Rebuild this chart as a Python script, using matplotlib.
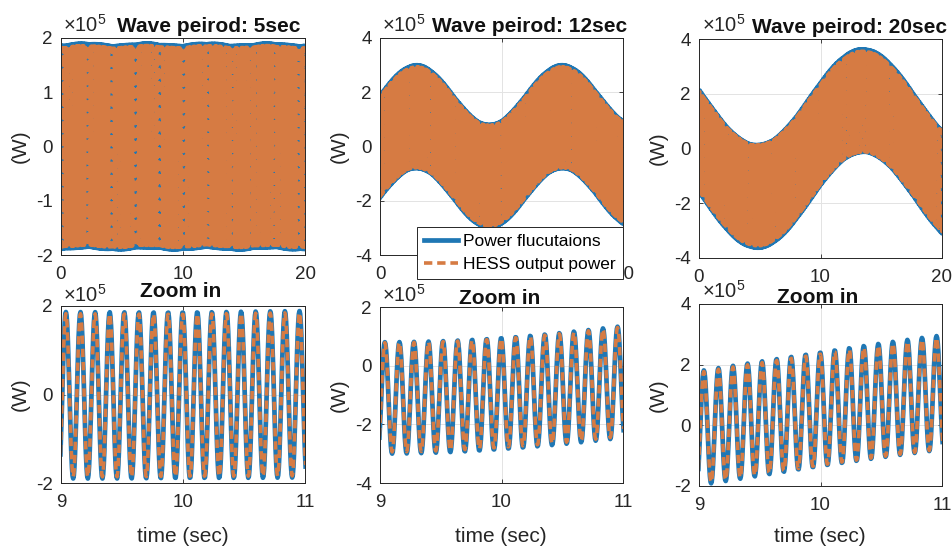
import numpy as np
import matplotlib
matplotlib.use("Agg")
import matplotlib.pyplot as plt

# Values, power in units of 1e5 W
wave_periods = [5, 12, 20]              # s, as in the titles
slow_period = [5.0, 12.0, 17.4]         # s, period of the envelope centre
slow_amp = [0.02, 1.1, 1.75]            # envelope centre swing
slow_peak_time = [2.0, 3.0, 13.5]       # s, time of envelope maximum
carrier_amp = [1.88, 1.9, 1.88]         # fast oscillation amplitude
carrier_freq = 8.355                    # Hz, 17 peaks between 9 s and 11 s
carrier_peak_time = 9.04                # s, first peak in the zoom window
hess_ratio = 0.98                       # HESS output vs power fluctuation
sim_end = 20.0
sim_step = 0.005

top_ylims = [(-2, 2), (-4, 4), (-4, 4)]
top_yticks = [[-2, -1, 0, 1, 2], [-4, -2, 0, 2, 4], [-4, -2, 0, 2, 4]]
top_xticks = [0, 10, 20]
zoom_xlim = (9, 11)
zoom_xticks = [9, 10, 11]
zoom_ylims = [(-2, 2), (-4, 2), (-2, 4)]
zoom_yticks = [[-2, 0, 2], [-4, -2, 0, 2], [-2, 0, 2, 4]]

legend_labels = ["Power flucutaions", "HESS output power"]
top_titles = ["Wave peirod: %dsec" % p for p in wave_periods]

BLUE = "#1f77b4"
ORANGE = "#d67b43"
INK = "#262626"

plt.rcParams["font.family"] = ["Liberation Sans", "DejaVu Sans"]
plt.rcParams["axes.unicode_minus"] = False
plt.rcParams["mathtext.fontset"] = "custom"
plt.rcParams["mathtext.rm"] = "Liberation Sans"
plt.rcParams["mathtext.default"] = "regular"
plt.rcParams["lines.scale_dashes"] = False

W, H = 952, 547


def rect(x0, y0, x1, y1):
    # pixel box (top-left origin) -> figure fraction
    return [x0 / W, 1 - y1 / H, (x1 - x0) / W, (y1 - y0) / H]


top_boxes = [rect(61, 38, 305, 255), rect(380, 38, 623, 255), rect(699, 39, 942, 258)]
zoom_boxes = [rect(61, 306, 305, 483), rect(380, 307, 623, 483), rect(699, 304, 942, 486)]
top_title_pos = [(209, 32), (530, 32), (849, 33)]
zoom_title_pos = [(181, 297), (500, 304), (818, 303)]
expo_pos = [(63, 32), (382, 32), (702, 32), (63, 302), (382, 302), (702, 298)]
xlabel_pos = [(183, 537), (501, 537), (820, 537)]

t = np.arange(0, sim_end + sim_step / 2, sim_step)
fast = np.cos(2 * np.pi * carrier_freq * (t - carrier_peak_time))


def power(i):
    slow = slow_amp[i] * np.cos(2 * np.pi * (t - slow_peak_time[i]) / slow_period[i])
    return slow + carrier_amp[i] * fast


def style(ax, ylim, yticks, xticks, xlim):
    ax.set_xlim(*xlim)
    ax.set_ylim(*ylim)
    ax.set_xticks(xticks)
    ax.set_yticks(yticks)
    ax.grid(True, color="#e3e3e3", lw=0.7)
    ax.set_axisbelow(True)
    ax.tick_params(direction="in", length=3, width=0.6, colors=INK,
                   labelsize=13.5, top=True, right=True)
    ax.tick_params(axis="x", pad=8)
    ax.tick_params(axis="y", pad=6)
    for s in ax.spines.values():
        s.set_color(INK)
        s.set_linewidth(0.7)
    ax.set_ylabel("(W)", fontsize=15, color=INK, labelpad=4)


fig = plt.figure(figsize=(W / 100, H / 100), dpi=100)

for i in range(3):
    p = power(i)
    # top row: whole 20 s run
    ax = fig.add_axes(top_boxes[i])
    l1, = ax.plot(t, p, color=BLUE, lw=3.4)
    l2, = ax.plot(t, hess_ratio * p, color=ORANGE, lw=2.6, dashes=(6, 3.5))
    style(ax, top_ylims[i], top_yticks[i], top_xticks, (0, 20))
    fig.text(top_title_pos[i][0] / W, 1 - top_title_pos[i][1] / H, top_titles[i],
             ha="center", va="baseline", fontsize=15, fontweight="bold", color="#111111")
    if i == 1:
        leg = ax.legend((l1, l2), legend_labels, loc="upper right",
                        bbox_to_anchor=(1.0, 0.129), fontsize=12.5, frameon=True,
                        fancybox=False, framealpha=1, edgecolor=INK,
                        borderaxespad=0, handlelength=2.0, borderpad=0.4,
                        labelspacing=0.45, handletextpad=0.3)
        leg.get_frame().set_linewidth(0.7)
        leg.set_zorder(10)

    # bottom row: zoom on 9-11 s
    axz = fig.add_axes(zoom_boxes[i])
    axz.plot(t, p, color=BLUE, lw=3.4)
    axz.plot(t, hess_ratio * p, color=ORANGE, lw=2.6, dashes=(6, 3.5))
    style(axz, zoom_ylims[i], zoom_yticks[i], zoom_xticks, zoom_xlim)
    fig.text(xlabel_pos[i][0] / W, 1 - xlabel_pos[i][1] / H, "time (sec)",
             ha="center", va="center", fontsize=15, color=INK)
    fig.text(zoom_title_pos[i][0] / W, 1 - zoom_title_pos[i][1] / H, "Zoom in",
             ha="center", va="baseline", fontsize=15, fontweight="bold", color="#111111")

for x, y in expo_pos:
    fig.text(x / W, 1 - y / H, "\u00d710$^{5}$", ha="left", va="baseline",
             fontsize=14.5, color=INK)

fig.savefig("out.png", dpi=100)
